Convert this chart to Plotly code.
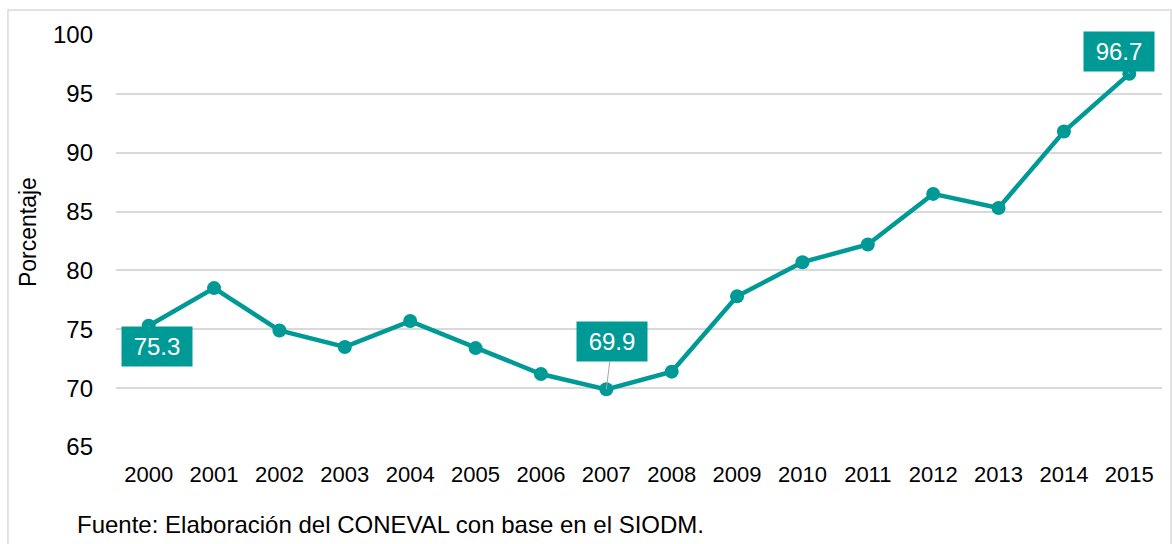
import plotly.graph_objects as go

anios = ["2000", "2001", "2002", "2003", "2004", "2005", "2006", "2007",
         "2008", "2009", "2010", "2011", "2012", "2013", "2014", "2015"]
porcentaje = [75.3, 78.5, 74.9, 73.5, 75.7, 73.4, 71.2, 69.9,
              71.4, 77.8, 80.7, 82.2, 86.5, 85.3, 91.8, 96.7]

# etiquetas solo en algunos años
etiquetas = {"2000": (8, 21), "2007": (6, -48), "2015": (-10, -22)}

teal = "#009A96"
fuente = "Liberation Sans, Arial, sans-serif"

fig = go.Figure()

fig.add_trace(go.Scatter(
    x=anios,
    y=porcentaje,
    mode="lines+markers",
    line=dict(color=teal, width=4.5),
    marker=dict(color=teal, size=14),
    hoverinfo="x+y",
    showlegend=False
))

for anio, (dx, dy) in etiquetas.items():
    i = anios.index(anio)
    fig.add_annotation(
        x=i, y=porcentaje[i], text=f"{porcentaje[i]:.1f}",
        showarrow=True, arrowhead=0, arrowwidth=1, arrowcolor="#a6a6a6",
        ax=dx, ay=dy, standoff=0,
        bgcolor=teal, width=68, height=37,
        font=dict(family=fuente, size=24, color="white")
    )

fig.add_annotation(
    text="Porcentaje", textangle=-90,
    xref="paper", yref="paper", x=-0.084, y=0.522,
    xanchor="center", yanchor="middle",
    showarrow=False, font=dict(family=fuente, size=23, color="black")
)

fig.add_annotation(
    text="Fuente: Elaboración del CONEVAL con base en el SIODM.",
    xref="paper", yref="paper", x=-0.039, y=-0.187,
    xanchor="left", yanchor="middle",
    showarrow=False, font=dict(family=fuente, size=24, color="black")
)

# marco del gráfico
fig.add_shape(
    type="rect", xref="paper", yref="paper",
    x0=-0.1033, x1=1.0086, y0=-0.24, y1=1.0607,
    line=dict(color="#d9d9d9", width=1.5), layer="below"
)

fig.update_layout(
    width=1172, height=544,
    margin=dict(l=116, r=10, t=35, b=97),
    plot_bgcolor="white", paper_bgcolor="white",
    font=dict(family=fuente, color="black")
)

fig.update_xaxes(
    type="category", range=[-0.5, 15.5],
    showgrid=False, showline=False, ticks="",
    tickfont=dict(size=22), ticklabelstandoff=12
)

fig.update_yaxes(
    range=[65, 100], dtick=5, tick0=65,
    showgrid=True, gridcolor="#d9d9d9", gridwidth=1.5,
    zeroline=False, showline=False, ticks="",
    tickfont=dict(size=24), ticklabelstandoff=22
)

fig.write_html("out.html", config={"displayModeBar": False},
               post_script="document.body.style.margin='0';")
